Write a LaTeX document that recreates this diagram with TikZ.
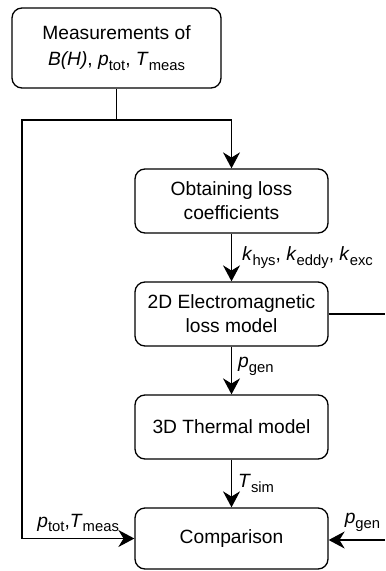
\documentclass[tikz,border=0pt]{standalone}
\usepackage{fontspec}
\setmainfont{Liberation Sans}
\usepackage{xcolor}
\usepackage{tikz}
\usetikzlibrary{arrows.meta}
\usetikzlibrary{shapes,positioning}

\tikzset{
    block/.style={
        draw,
        line width=0.65pt,
        rounded corners=5pt,
        align=center,
        inner sep=0pt,
        minimum width=96.5pt,
        minimum height=32pt,
        font=\fontsize{9.6}{12}\selectfont
    },
    flow/.style={
        line width=0.65pt,
        -{Stealth[length=8pt,width=8.5pt,inset=2.6pt]}
    },
    wire/.style={
        line width=0.65pt
    },
    sig/.style={
        inner sep=1pt,
        font=\fontsize{9.6}{12}\selectfont
    }
}

\newcommand{\vsub}[2]{\textit{#1}\raisebox{-0.45ex}{\fontsize{7.4}{8}\selectfont #2}}

\begin{document}
\begin{tikzpicture}[x=0.5pt,y=-0.5pt]
                \useasboundingbox (0,0) rectangle (385,571);

                % blocks
                \node[
                    block,
                    minimum width=104.5pt,
                    minimum height=40pt,
                    font=\fontsize{9.6}{13}\selectfont
                ] (meas) at (116.5,48) {Measurements of\\ \textit{B(H)}, \vsub{p}{tot}, \vsub{T}{meas}};

                \node[block] (coef) at (231.5,201) {Obtaining loss\\ coefficients};
                \node[block] (em) at (231.5,314) {2D Electromagnetic\\ loss model};
                \node[block] (therm) at (231.5,427) {3D Thermal model};
                \node[
                    block,
                    minimum height=30.5pt
                ] (comp) at (231.5,538.5) {Comparison};

                % branch points and free ends
                \coordinate (split) at (116.5,120);
                \coordinate (lft) at (22,120);
                \coordinate (emout) at (385,314);
                \coordinate (cmpin) at (385,540);

                % connectors
                \draw[wire] (meas.south) -- (split);
                \draw[flow] (split) -| (coef.north);
                \draw[flow] (split) -- (lft) |- node[sig, pos=0.75, above, yshift=2pt] {\vsub{p}{tot},\vsub{T}{meas}} (comp.west);

                \draw[flow] (coef) -- node[sig, right, xshift=4pt] {\vsub{k}{hys}, \vsub{k}{eddy}, \vsub{k}{exc}} (em);
                \draw[flow] (em) -- node[sig, right, xshift=2pt, yshift=2pt] {\vsub{p}{gen}} (therm);
                \draw[flow] (therm) -- node[sig, right, xshift=2pt] {\vsub{T}{sim}} (comp);

                \draw[wire] (em.east) -- (emout);
                \draw[flow] (cmpin) -- node[sig, pos=0.4, above, yshift=3pt] {\vsub{p}{gen}} (comp.east |- cmpin);

\end{tikzpicture}
\end{document}
